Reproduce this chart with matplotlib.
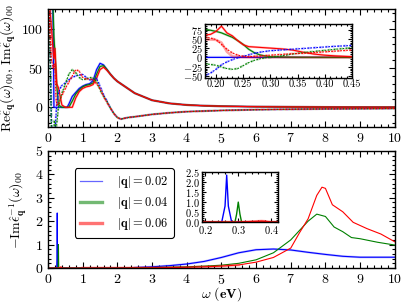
import numpy as np
import matplotlib
matplotlib.use("Agg")
import matplotlib.pyplot as plt
from matplotlib.lines import Line2D
from matplotlib.ticker import MultipleLocator

plt.rcParams['font.family'] = 'serif'
plt.rcParams['font.serif'] = ['cmr10', 'DejaVu Serif']
plt.rcParams['mathtext.fontset'] = 'cm'
plt.rcParams['axes.formatter.use_mathtext'] = True
plt.rcParams['axes.unicode_minus'] = True

# ---------------- data: top panel (main) ----------------
w_im = [0.02, 0.05, 0.1, 0.15, 0.17, 0.2, 0.25, 0.3, 0.4, 0.5, 0.55, 0.6, 0.7, 0.8, 0.9, 1.0,
        1.1, 1.2, 1.3, 1.4, 1.5, 1.6, 1.7, 1.8, 1.9, 2.0, 2.2, 2.5, 3.0, 3.5, 4.0, 4.5,
        5.0, 6.0, 7.0, 8.0, 9.0, 10.0]
im_b = [300, 260, 200, 100, 0, 0, 0, 0, 0, 0, 0, 4, 14, 19, 24, 27,
        29, 30, 34, 48, 56, 54, 48, 42, 37, 33, 27, 18, 9, 5, 3, 2,
        1.4, 0.8, 0.5, 0.3, 0.2, 0.15]
im_g = [250, 230, 180, 120, 90, 70, 30, 3, 0, 0, 0, 0, 8, 17, 22, 26,
        28, 29, 31, 42, 52, 53, 48, 42, 37, 33, 27, 18, 9, 5, 3, 2,
        1.4, 0.8, 0.5, 0.3, 0.2, 0.15]
im_r = [150, 130, 100, 70, 62, 75, 30, 25, 3, 0, 0, 0, 0, 12, 20, 24,
        26, 27, 29, 37, 48, 51, 47, 42, 37, 33, 27, 18, 9, 5, 3, 2,
        1.4, 0.8, 0.5, 0.3, 0.2, 0.15]

w_re = [0.02, 0.05, 0.1, 0.15, 0.18, 0.2, 0.23, 0.25, 0.3, 0.35, 0.4, 0.5, 0.6, 0.7, 0.8,
        0.9, 1.0, 1.1, 1.2, 1.3, 1.4, 1.5, 1.6, 1.7, 1.8, 1.9, 2.0, 2.1, 2.3, 2.5,
        3.0, 3.5, 4.0, 5.0, 6.0, 7.0, 8.0, 10.0]
re_b = [200, 100, -20, -60, -49, -32, -10, 3, 18, 24, 28, 31, 35, 38, 40,
        41, 42, 38, 35, 35, 37, 27, 16, 8, -1, -8, -13, -15, -13, -12,
        -9, -7, -5.5, -4, -3, -2.5, -2, -1.5]
re_g = [180, 90, -30, -40, -17, -21, -32, -22, 0, 10, 18, 30, 42, 48, 44,
        38, 35, 36, 38, 37, 33, 22, 14, 7, -1, -8, -13, -15, -13, -12,
        -9, -7, -5.5, -4, -3, -2.5, -2, -1.5]
re_r = [150, 100, 60, 50, 55, 48, 12, 3, 4, 10, 15, 24, 32, 40, 48,
        46, 38, 36, 36, 35, 30, 24, 14, 6, -1, -8, -13, -15, -13, -12,
        -9, -7, -5.5, -4, -3, -2.5, -2, -1.5]

# ---------------- data: top inset ----------------
wi = [0.18, 0.19, 0.20, 0.21, 0.22, 0.23, 0.24, 0.25, 0.26, 0.27, 0.28, 0.29, 0.30,
      0.32, 0.34, 0.36, 0.38, 0.40, 0.42, 0.45]
ins_im_r = [60, 62, 70, 84, 66, 58, 45, 34, 29, 28, 27, 26, 25, 23, 20, 14, 9, 6, 4, 2]
ins_im_g = [75, 73, 70, 66, 60, 54, 45, 35, 22, 13, 7, 4, 2, 1, 0.5, 0.3, 0.2, 0.1, 0.1, 0.1]
ins_im_b = [0, 0, 0, 0, 0, 0, 0, 0, 0, 0, 0, 0, 0, 0, 0, 0, 0, 0, 0, 0]
ins_im_r_light = [48, 48, 47, 40, 15, 3, 1, 0.5, 0.3, 0.2, 0.2, 0.2, 0.2, 0.2, 0.2, 0.2, 0.2, 0.2, 0.2, 0.2]
ins_re_b = [-49, -42, -32, -20, -12, -6, -1, 3, 7, 11, 14, 16, 18, 20, 22, 24, 26, 28, 30, 32]
ins_re_g = [-17, -19, -21, -26, -30, -32, -30, -22, -14, -8, -4, -1, 0, 4, 9, 13, 16, 19, 22, 26]
ins_re_r = [55, 52, 48, 35, 22, 12, 6, 3, 2, 3, 4, 5, 6, 8, 10, 11, 13, 15, 17, 20]

# ---------------- data: bottom panel ----------------
w_lb = [0, 0.25, 0.26, 0.265, 0.27, 0.28, 0.5, 1, 2, 2.5, 3, 3.5, 4, 4.5, 5, 5.5, 6,
        6.5, 7, 7.5, 8, 8.5, 9, 9.5, 10]
l_b = [0, 0, 0.8, 2.35, 0.8, 0, 0, 0, 0, 0.02, 0.05, 0.1, 0.17, 0.28, 0.45, 0.65, 0.78,
       0.81, 0.77, 0.67, 0.58, 0.5, 0.46, 0.46, 0.46]
w_lg = [0, 0.29, 0.295, 0.30, 0.305, 0.31, 0.5, 1, 2, 3, 4, 4.5, 5, 5.5, 6, 6.5, 7,
        7.25, 7.5, 7.75, 8, 8.25, 8.5, 8.75, 9, 9.5, 10]
l_g = [0, 0, 0.4, 1.0, 0.4, 0, 0, 0, 0, 0.02, 0.05, 0.08, 0.12, 0.2, 0.35, 0.65, 1.2,
       1.6, 2.0, 2.3, 2.2, 1.75, 1.55, 1.3, 1.25, 1.1, 0.98]
w_lr = [0, 0.3, 0.33, 0.36, 0.37, 0.38, 0.39, 0.4, 0.5, 1, 2, 3, 4, 4.5, 5, 5.5, 6, 6.5,
        7, 7.25, 7.5, 7.75, 7.9, 8, 8.2, 8.5, 8.8, 9.2, 9.6, 10]
l_r = [0, 0, 0.02, 0.04, 0.05, 0.04, 0.02, 0, 0, 0, 0, 0.01, 0.03, 0.05, 0.08, 0.13, 0.25,
       0.45, 0.85, 1.5, 2.1, 3.1, 3.45, 3.4, 2.7, 2.4, 1.95, 1.68, 1.45, 1.12]

labels = [r'$|\mathbf{q}| = 0.02$', r'$|\mathbf{q}| = 0.04$', r'$|\mathbf{q}| = 0.06$']
C_B, C_G, C_R = '#0000ff', '#008000', '#ff0000'


def style(ax, fs, xmaj, xmin, ymaj, ymin, ml=4, mn=2):
    ax.tick_params(which='both', direction='in', top=True, right=True, labelsize=fs,
                   width=0.8)
    ax.tick_params(which='major', length=ml)
    ax.tick_params(which='minor', length=mn)
    ax.xaxis.set_major_locator(MultipleLocator(xmaj))
    ax.xaxis.set_minor_locator(MultipleLocator(xmin))
    ax.yaxis.set_major_locator(MultipleLocator(ymaj))
    ax.yaxis.set_minor_locator(MultipleLocator(ymin))
    for s in ax.spines.values():
        s.set_linewidth(1.0)


def pair(ax, x, y, c, ls='-', lw=0.8, light=True):
    if light:
        ax.plot(x, y, color=c, ls=ls, lw=lw * 2.0, alpha=0.3)
    ax.plot(x, y, color=c, ls=ls, lw=lw)


fig = plt.figure(figsize=(4.07, 3.03), dpi=100)

# ---- top main ----
ax1 = fig.add_axes([0.118, 0.581, 0.852, 0.389])
for x, y, c in [(w_im, im_b, C_B), (w_im, im_g, C_G), (w_im, im_r, C_R)]:
    pair(ax1, x, y, c, '-')
for x, y, c in [(w_re, re_b, C_B), (w_re, re_g, C_G), (w_re, re_r, C_R)]:
    pair(ax1, x, y, c, (0, (1.5, 1.2)))
ax1.set_xlim(0, 10)
ax1.set_ylim(-25, 125)
style(ax1, 10, 1, 0.2, 50, 10)
ax1.set_ylabel(r'$\mathrm{Re}\hat{\epsilon}_{\mathbf{q}}(\omega)_{00}$, $\mathrm{Im}\hat{\epsilon}_{\mathbf{q}}(\omega)_{00}$',
               fontsize=10, labelpad=2)

# ---- top inset ----
ax1i = fig.add_axes([0.504, 0.743, 0.361, 0.178])
pair(ax1i, wi, ins_im_b, C_B, '-')
pair(ax1i, wi, ins_im_g, C_G, '-')
pair(ax1i, wi, ins_im_r, C_R, '-')
ax1i.plot(wi, ins_im_r_light, color=C_R, lw=1.8, alpha=0.35)
pair(ax1i, wi, ins_re_b, C_B, (0, (1.5, 1.2)))
pair(ax1i, wi, ins_re_g, C_G, (0, (1.5, 1.2)))
pair(ax1i, wi, ins_re_r, C_R, (0, (1.5, 1.2)))
ax1i.set_xlim(0.18, 0.45)
ax1i.set_ylim(-55, 90)
style(ax1i, 7.5, 0.05, 0.01, 25, 5, ml=3, mn=1.5)
ax1i.set_xticks([0.20, 0.25, 0.30, 0.35, 0.40, 0.45])
ax1i.set_xticklabels(['0.20', '0.25', '0.30', '0.35', '0.40', '0.45'])
ax1i.tick_params(axis='both', pad=1.5)

# ---- bottom main ----
ax2 = fig.add_axes([0.118, 0.1155, 0.852, 0.3865])
ax2.plot(w_lb, l_b, color=C_B, lw=0.8)
ax2.plot(w_lb[9:], l_b[9:], color=C_B, lw=1.6, alpha=0.25)
ax2.plot(w_lg, l_g, color=C_G, lw=0.8)
ax2.plot(w_lr, l_r, color=C_R, lw=0.8)
ax2.plot(w_lr[9:16], l_r[9:16], color=C_R, lw=2.0, alpha=0.3)
ax2.set_xlim(0, 10)
ax2.set_ylim(0, 5)
style(ax2, 10, 1, 0.2, 1, 0.2)
ax2.set_ylabel(r'$-\mathrm{Im}\hat{\epsilon}^{-1}_{\mathbf{q}}(\omega)_{00}$', fontsize=10, labelpad=4)
ax2.set_xlabel(r'$\omega\ \mathbf{(eV)}$', fontsize=10, labelpad=-1)

handles = [Line2D([], [], color=C_B, lw=0.9, alpha=0.6),
           Line2D([], [], color=C_G, lw=2.4, alpha=0.55),
           Line2D([], [], color=C_R, lw=2.4, alpha=0.55)]
leg = ax2.legend(handles, labels, loc='upper left', bbox_to_anchor=(0.077, 0.85),
                 fontsize=9, frameon=True, fancybox=True, edgecolor='black',
                 framealpha=1, handlelength=1.7, labelspacing=0.4, borderpad=0.45,
                 handletextpad=1.2, borderaxespad=0)
leg.get_frame().set_linewidth(0.8)

# ---- bottom inset ----
ax2i = fig.add_axes([0.496, 0.267, 0.187, 0.165])
ax2i.plot(w_lb[:7], l_b[:7], color=C_B, lw=1.0)
ax2i.plot(w_lg[:7], l_g[:7], color=C_G, lw=1.0)
ax2i.plot(w_lr[:9], l_r[:9], color=C_R, lw=1.0)
ax2i.plot(w_lr[:9], l_r[:9], color=C_R, lw=2.0, alpha=0.35)
ax2i.set_xlim(0.19, 0.42)
ax2i.set_ylim(0, 2.5)
style(ax2i, 7.5, 0.1, 0.02, 0.5, 0.1, ml=3, mn=1.5)
ax2i.tick_params(axis='both', pad=1.5)

fig.savefig('out.png', dpi=100)
